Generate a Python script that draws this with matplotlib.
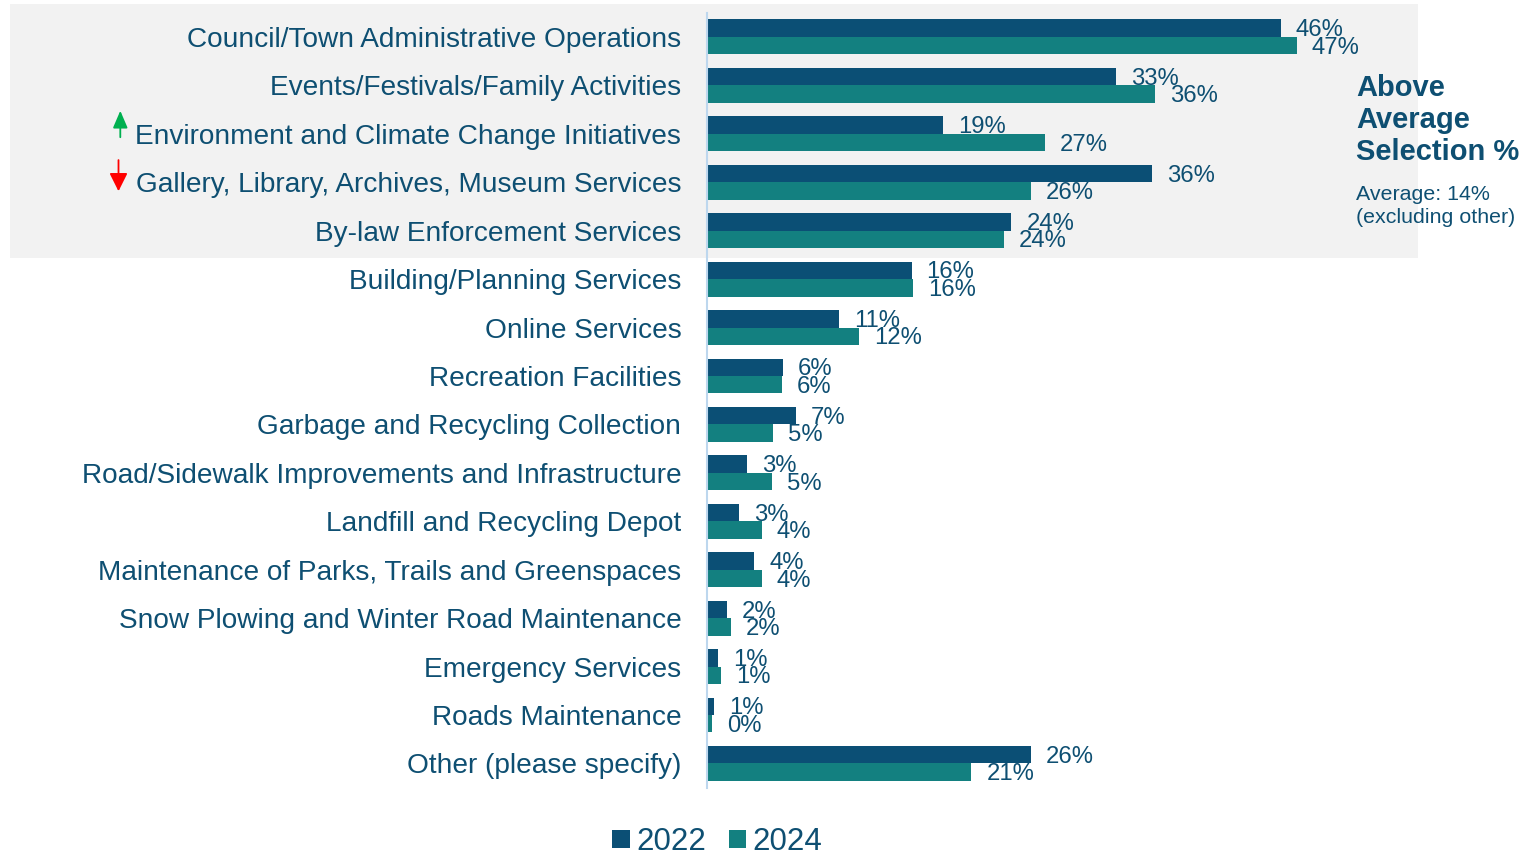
import matplotlib
matplotlib.use("Agg")
import matplotlib.pyplot as plt
from matplotlib.patches import Rectangle, FancyArrowPatch

plt.rcParams['font.family'] = ['Liberation Sans', 'DejaVu Sans']

# Survey categories (top to bottom) and share of respondents selecting each
categories = [
    "Council/Town Administrative Operations",
    "Events/Festivals/Family Activities",
    "Environment and Climate Change Initiatives",
    "Gallery, Library, Archives, Museum Services",
    "By-law Enforcement Services",
    "Building/Planning Services",
    "Online Services",
    "Recreation Facilities",
    "Garbage and Recycling Collection",
    "Road/Sidewalk Improvements and Infrastructure",
    "Landfill and Recycling Depot",
    "Maintenance of Parks, Trails and Greenspaces",
    "Snow Plowing and Winter Road Maintenance",
    "Emergency Services",
    "Roads Maintenance",
    "Other (please specify)",
]
pct_2022 = [46.0, 32.8, 18.9, 35.7, 24.4, 16.4, 10.6, 6.1, 7.1, 3.2, 2.6, 3.8, 1.6, 0.9, 0.6, 26.0]
pct_2024 = [47.3, 35.9, 27.1, 26.0, 23.8, 16.5, 12.2, 6.0, 5.3, 5.2, 4.4, 4.4, 1.9, 1.1, 0.4, 21.2]
series_names = ["2022", "2024"]

C2022 = "#0B4F75"
C2024 = "#138080"
TEXT = "#0E4F72"

W, H = 1521, 855
fig = plt.figure(figsize=(W / 100, H / 100), dpi=100)

# Shaded band behind the above-average categories
fig.patches.append(Rectangle((10 / W, 1 - 257.7 / H), 1408 / W, 253.7 / H,
                             transform=fig.transFigure, facecolor="#F2F2F2",
                             edgecolor="none", zorder=-1))

ax = fig.add_axes([707 / W, 1 - 787.7 / H, 623.5 / W, 775 / H])
ax.set_facecolor("none")

bh = 0.36
ypos = list(range(len(categories)))
b1 = ax.barh([y - bh / 2 for y in ypos], pct_2022, height=bh, color=C2022,
             label=series_names[0])
b2 = ax.barh([y + bh / 2 for y in ypos], pct_2024, height=bh, color=C2024,
             label=series_names[1])

for bars, vals in ((b1, pct_2022), (b2, pct_2024)):
    for rect, v in zip(bars, vals):
        yc = rect.get_y() + rect.get_height() / 2
        ax.annotate(f"{v:.0f}%", xy=(v, yc), xytext=(10.8, -1.5),
                    textcoords="offset points", ha="left", va="center",
                    fontsize=17.2, color=TEXT)

ax.set_xlim(0, 50)
ax.set_ylim(len(categories) - 0.5, -0.5)
ax.set_yticks(ypos)
ax.set_yticklabels(categories, fontsize=20.2, color=TEXT)
ax.tick_params(axis="y", length=0, pad=18.5)
ax.set_xticks([])
for s in ("top", "right", "bottom"):
    ax.spines[s].set_visible(False)
ax.spines["left"].set_color("#BDD7EE")
ax.spines["left"].set_linewidth(1.5)

# Side note
fig.text(1356 / W, 1 - 73.5 / H, "Above\nAverage\nSelection %", fontsize=21,
         fontweight="bold", color=TEXT, ha="left", va="top", linespacing=1.2)
fig.text(1356 / W, 1 - 185.5 / H, "Average: 14%\n(excluding other)", fontsize=15.4,
         color=TEXT, ha="left", va="top", linespacing=1.22)

# Change indicators next to category names
up = FancyArrowPatch((120.3 / W, 1 - 140 / H), (120.3 / W, 1 - 108 / H),
                     transform=fig.transFigure,
                     arrowstyle="-|>,head_length=10.5,head_width=4.5",
                     color="#00B050", linewidth=1.3, mutation_scale=1)
down = FancyArrowPatch((118.5 / W, 1 - 157.3 / H), (118.5 / W, 1 - 194 / H),
                       transform=fig.transFigure,
                       arrowstyle="-|>,head_length=11,head_width=5.5",
                       color="#FF0000", linewidth=1.3, mutation_scale=1)
fig.patches.extend([up, down])

leg = fig.legend(handles=[b1, b2], labels=series_names, loc="center",
                 bbox_to_anchor=(717.5 / W, 13 / H), ncol=2, frameon=False,
                 fontsize=22.5, handlelength=0.55, handleheight=0.55,
                 handletextpad=0.22, columnspacing=0.72, borderpad=0)
for t in leg.get_texts():
    t.set_color(TEXT)

fig.savefig("out.png", dpi=100)
